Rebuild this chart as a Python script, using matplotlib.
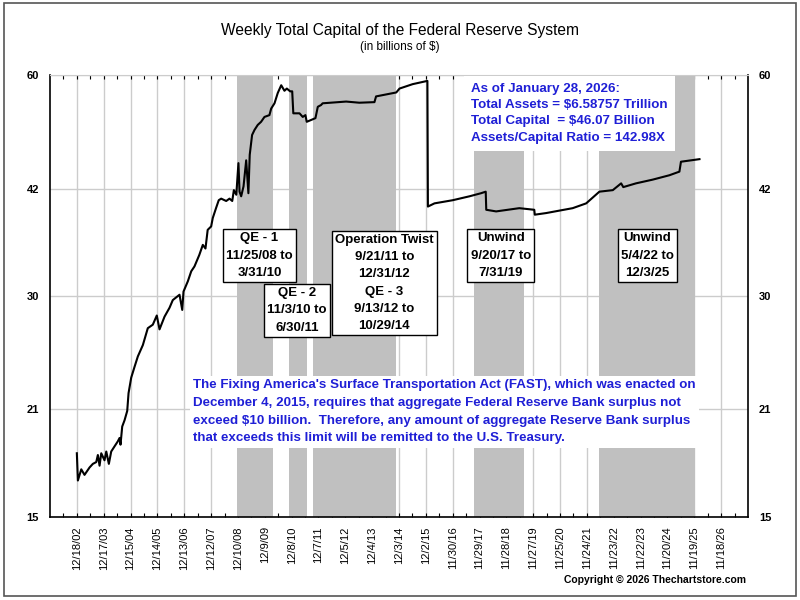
import pandas as pd
import matplotlib
matplotlib.use('Agg')
import matplotlib.pyplot as plt
from matplotlib.patches import Rectangle

plt.rcParams['font.family'] = ['Liberation Sans', 'DejaVu Sans']

# weekly total capital (billions of $)
dates = ['2002-12-18', '2003-01-01', '2003-02-16', '2003-04-01', '2003-06-08', '2003-07-23',
         '2003-09-07', '2003-09-29', '2003-10-22', '2003-11-14', '2003-12-28', '2004-01-21',
         '2004-02-25', '2004-03-28', '2004-05-12', '2004-06-26', '2004-07-19', '2004-08-01',
         '2004-08-24', '2004-09-25', '2004-10-31', '2004-11-18', '2004-12-24', '2005-02-07',
         '2005-03-24', '2005-05-31', '2005-08-06', '2005-10-13', '2005-12-06', '2006-01-12',
         '2006-03-21', '2006-05-28', '2006-07-11', '2006-10-10', '2006-11-16', '2006-12-03',
         '2007-01-31', '2007-03-18', '2007-05-01', '2007-07-05', '2007-08-22', '2007-09-27',
         '2007-10-27', '2007-12-13', '2008-01-04', '2008-02-17', '2008-03-25', '2008-04-27',
         '2008-07-04', '2008-08-18', '2008-09-24', '2008-10-16', '2008-11-18', '2008-12-17',
         '2009-01-01', '2009-01-23', '2009-02-24', '2009-04-01', '2009-05-01', '2009-05-19',
         '2009-06-20', '2009-07-23', '2009-09-05', '2009-10-20', '2009-12-05', '2010-02-10',
         '2010-03-06', '2010-04-20', '2010-06-03', '2010-07-20', '2010-09-02', '2010-10-04',
         '2010-11-18', '2010-12-16', '2010-12-31', '2011-03-25', '2011-05-08', '2011-06-13',
         '2011-07-01', '2011-10-27', '2011-11-28', '2012-01-11', '2012-02-02', '2012-12-16',
         '2013-06-13', '2014-01-04', '2014-01-26', '2014-10-27', '2014-12-10', '2015-06-06',
         '2015-12-23', '2015-12-30', '2016-03-28', '2016-12-01', '2017-07-16', '2017-12-20',
         '2018-02-21', '2018-02-28', '2018-07-12', '2019-05-22', '2019-12-11', '2019-12-18',
         '2020-05-22', '2020-11-17', '2021-05-15', '2021-11-14', '2022-05-12', '2022-11-10',
         '2023-03-03', '2023-04-01', '2023-09-20', '2024-05-03', '2024-12-16', '2025-05-01',
         '2025-05-22', '2026-01-28']
capital = [18.3, 16.8, 17.4, 17.1, 17.5, 17.7,
           17.8, 18.2, 17.6, 18.3, 17.9, 18.4,
           17.7, 18.4, 18.7, 19.0, 19.2, 18.8,
           19.9, 20.3, 20.9, 22.1, 23.2, 24.0,
           24.8, 25.7, 27.1, 27.4, 28.2, 27.0,
           28.1, 28.9, 29.6, 30.1, 28.7, 30.4,
           31.4, 32.4, 32.9, 34.1, 35.2, 34.8,
           36.9, 37.3, 38.3, 39.5, 40.5, 40.7,
           40.4, 40.7, 40.4, 41.8, 41.2, 45.5,
           41.6, 41.0, 42.3, 45.9, 41.4, 46.7,
           49.7, 50.5, 51.3, 51.8, 52.6, 52.9,
           54.0, 54.9, 56.7, 58.1, 57.1, 57.5,
           57.0, 57.0, 53.2, 53.2, 52.6, 52.9,
           51.8, 52.4, 54.3, 54.6, 54.9, 55.2,
           55.0, 55.1, 56.1, 56.8, 57.5, 58.3,
           58.9, 39.7, 40.1, 40.5, 41.0, 41.4,
           41.6, 39.3, 39.1, 39.5, 39.3, 38.7,
           38.9, 39.2, 39.5, 40.1, 41.6, 41.8,
           42.7, 42.2, 42.7, 43.2, 43.8, 44.3,
           45.7, 46.07]

# shaded policy periods
period_starts = ['2008-11-25', '2010-11-03', '2011-09-21', '2017-09-20', '2022-05-04']
period_ends = ['2010-03-31', '2011-06-30', '2014-10-29', '2019-07-31', '2025-12-03']

x_labels = ['12/18/02', '12/17/03', '12/15/04', '12/14/05', '12/13/06', '12/12/07',
            '12/10/08', '12/9/09', '12/8/10', '12/7/11', '12/5/12', '12/4/13',
            '12/3/14', '12/2/15', '11/30/16', '11/29/17', '11/28/18', '11/27/19',
            '11/25/20', '11/24/21', '11/23/22', '11/22/23', '11/20/24', '11/19/25',
            '11/18/26']
y_ticks = [15, 21, 30, 42, 60]

blue = '#1f1fd6'

df = pd.DataFrame({'capital': capital}, index=pd.to_datetime(dates))
xt = pd.to_datetime(x_labels, format='%m/%d/%y')

fig = plt.figure(figsize=(8, 6), dpi=100)
ax = fig.add_axes([0.0625, 0.139, 0.8725, 0.736])

for s, e in zip(period_starts, period_ends):
    ax.axvspan(pd.Timestamp(s), pd.Timestamp(e), color='#c0c0c0', lw=0, zorder=1)

ax.plot(df.index, df['capital'], color='black', lw=1.5, zorder=2)

ax.set_yscale('log')
ax.set_ylim(15, 60)
ax.set_xlim(xt[0] - pd.Timedelta(days=364), xt[-1] + pd.Timedelta(days=364))

ax.set_yticks(y_ticks)
ax.set_yticklabels([str(v) for v in y_ticks])
ax.yaxis.set_minor_locator(matplotlib.ticker.NullLocator())
ax.tick_params(axis='y', length=0, labelleft=True, labelright=True, labelsize=8, pad=8)
for lab in ax.get_yticklabels():
    lab.set_fontweight('bold')

ax.set_xticks(xt)
ax.set_xticklabels(x_labels, rotation=90, fontsize=8)
minor = list(xt - pd.Timedelta(days=182)) + [xt[-1] + pd.Timedelta(days=182)]
ax.set_xticks(minor, minor=True)
ax.tick_params(axis='x', which='both', direction='in', length=3, top=True, pad=7, width=0.8)

ax.grid(True, which='major', color='#cccccc', lw=1)
ax.set_axisbelow(True)
ax.spines['top'].set_color('#cccccc')
for sp in ['left', 'right', 'bottom']:
    ax.spines[sp].set_linewidth(1.2)

box = dict(boxstyle='square,pad=0.25', fc='white', ec='black', lw=1)
kw = dict(transform=ax.transAxes, ha='center', va='center', fontsize=9.5,
          fontweight='bold', linespacing=1.58, bbox=box, zorder=5)
ax.text(0.300, 0.591, 'QE - 1\n11/25/08 to\n3/31/10', **kw)
ax.text(0.354, 0.467, 'QE - 2\n11/3/10 to\n6/30/11', **kw)
ax.text(0.479, 0.529, 'Operation Twist\n9/21/11 to\n12/31/12\nQE - 3\n9/13/12 to\n10/29/14', **kw)
ax.text(0.646, 0.591, 'Unwind\n9/20/17 to\n7/31/19', **kw)
ax.text(0.856, 0.591, 'Unwind\n5/4/22 to\n12/3/25', **kw)

ax.text(0.603, 0.981, 'As of January 28, 2026:\nTotal Assets = $6.58757 Trillion\n'
        'Total Capital  = $46.07 Billion\nAssets/Capital Ratio = 142.98X',
        transform=ax.transAxes, ha='left', va='top', fontsize=9.6, fontweight='bold',
        color=blue, linespacing=1.45, zorder=5,
        bbox=dict(boxstyle='square,pad=0.55', fc='white', ec='none'))

ax.text(0.205, 0.237, "The Fixing America's Surface Transportation Act (FAST), which was enacted on\n"
        "December 4, 2015, requires that aggregate Federal Reserve Bank surplus not\n"
        "exceed $10 billion.  Therefore, any amount of aggregate Reserve Bank surplus\n"
        "that exceeds this limit will be remitted to the U.S. Treasury.",
        transform=ax.transAxes, ha='left', va='center', fontsize=9.6, fontweight='bold',
        color=blue, linespacing=1.63, zorder=5,
        bbox=dict(boxstyle='square,pad=0.25', fc='white', ec='none'))

fig.text(0.5, 1 - 30 / 600, 'Weekly Total Capital of the Federal Reserve System',
         ha='center', va='center', fontsize=11.2)
fig.text(0.5, 1 - 47 / 600, '(in billions of $)', ha='center', va='center', fontsize=8.5)
fig.text(746 / 800, 1 - 580 / 600, 'Copyright \u00a9 2026 Thechartstore.com',
         ha='right', va='center', fontsize=7.5, fontweight='bold')

fig.patches.append(Rectangle((0.005, 0.007), 0.99, 0.988, transform=fig.transFigure,
                             fill=False, ec='#555555', lw=1.2))

fig.savefig('out.png', dpi=100)
